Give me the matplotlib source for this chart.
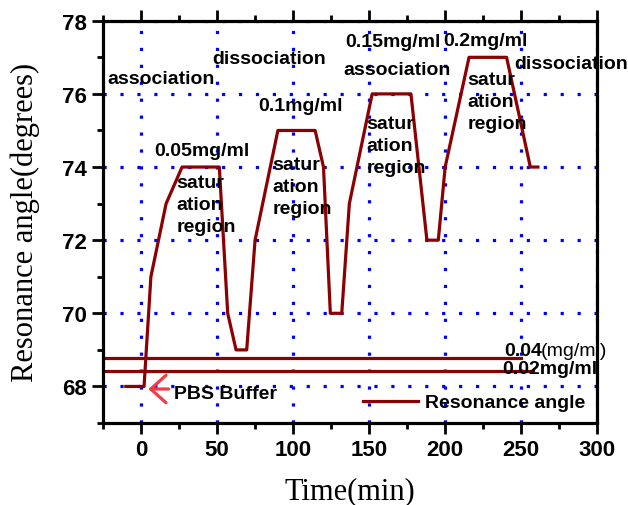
import matplotlib.pyplot as plt
from matplotlib.ticker import MultipleLocator

# resonance angle trace
time = [-10, 2, 6.5, 16.5, 27, 51.5, 57, 62.5, 69.5, 75, 90, 114.5, 120, 124.5,
        132, 137, 152, 177.5, 188, 195.5, 200, 215.7, 240.4, 256, 261]
angle = [68, 68, 71, 73, 74, 74, 70, 69, 69, 72, 75, 75, 74, 70,
         70, 73, 76, 76, 72, 72, 74, 77, 77, 74, 74]

# low concentration reference lines
ref_levels = [68.78, 68.42]
ref_ends = [250, 258]

# annotations: (x, y, text)
labels = [
    (-22.4, 76.42, "association"),
    (46.6, 76.96, "dissociation"),
    (8.6, 74.45, "0.05mg/ml"),
    (77.4, 75.68, "0.1mg/ml"),
    (134, 77.42, "0.15mg/ml"),
    (132.8, 76.67, "association"),
    (198.8, 77.46, "0.2mg/ml"),
    (245.5, 76.83, "dissociation"),
    (237.4, 68.49, "0.02mg/ml"),
]
sat_pos = [(23.5, 72.97), (86.6, 73.46), (148.3, 74.58), (214.6, 75.8)]

fig = plt.figure(figsize=(6.28, 5.06), dpi=100)
ax = fig.add_axes([0.164, 0.162, 0.787, 0.795])

ax.grid(True, color="#0000ff", linestyle=(0, (1, 4.3)), linewidth=2.3)
ax.set_axisbelow(True)

for lev, end in zip(ref_levels, ref_ends):
    ax.plot([-25, end], [lev, lev], color="#8b0000", lw=2.3)

ax.plot(time, angle, color="#8b0000", lw=2.3, label="Resonance angle")

bold = dict(fontfamily="Liberation Sans", fontweight="bold", fontsize=14)
for x, y, s in labels:
    ax.text(x, y, s, va="center", ha="left", clip_on=False, **bold)
for x, y in sat_pos:
    ax.text(x, y, "satur\nation\nregion", va="center", ha="left",
            linespacing=1.38, **bold)

# 0.04 label with mixed weight
t1 = ax.text(239, 68.98, "0.04", va="center", ha="left", **bold)
fig.canvas.draw()
bb = t1.get_window_extent().transformed(ax.transData.inverted())
ax.text(bb.x1, 68.98, "(mg/ml)", va="center", ha="left",
        fontfamily="Liberation Sans", fontsize=14, clip_on=False)

ax.annotate("", xy=(3, 67.93), xytext=(20, 67.93),
            arrowprops=dict(arrowstyle="->, head_length=0.5, head_width=0.45",
                            color="#f03c46", lw=2.3, mutation_scale=22))
ax.text(21.8, 67.81, "PBS Buffer", va="center", ha="left", **bold)

ax.set_xlim(-25, 300)
ax.set_ylim(67, 78)
ax.xaxis.set_major_locator(MultipleLocator(50))
ax.xaxis.set_minor_locator(MultipleLocator(25))
ax.yaxis.set_major_locator(MultipleLocator(2))
ax.yaxis.set_minor_locator(MultipleLocator(1))
ax.tick_params(which="both", direction="out", width=2, top=True, right=False,
               labelsize=16)
ax.tick_params(which="major", length=8)
ax.tick_params(which="minor", length=4)
for lab in ax.get_xticklabels() + ax.get_yticklabels():
    lab.set_fontfamily("Liberation Sans")
    lab.set_fontweight("bold")
for sp in ax.spines.values():
    sp.set_linewidth(2.3)

ax.set_xlabel("Time(min)", fontfamily="Liberation Serif", fontsize=22,
              labelpad=12)
ax.set_ylabel("Resonance angle(degrees)", fontfamily="Liberation Serif",
              fontsize=22, labelpad=16)

leg = ax.legend(loc="lower right", frameon=False, handlelength=2.8,
                handletextpad=0.4,
                prop=dict(family="Liberation Sans", weight="bold", size=14),
                borderaxespad=0.2)

fig.savefig("out.png", dpi=100)
